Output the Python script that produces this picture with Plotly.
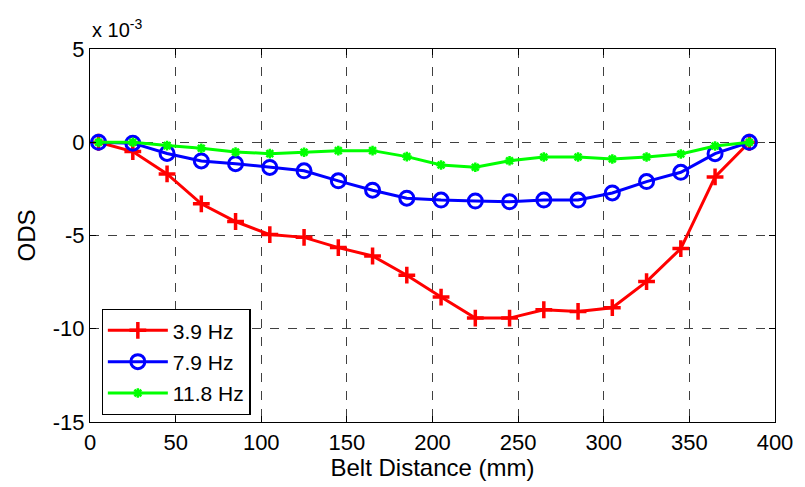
import plotly.graph_objects as go

belt_mm = [5, 25, 45, 65, 85, 105, 125, 145, 165, 185, 205, 225, 245, 265, 285, 305, 325, 345, 365, 385]
ods_39 = [0, -0.5, -1.7, -3.3, -4.25, -4.95, -5.1, -5.65, -6.1, -7.13, -8.3, -9.43, -9.43, -8.98, -9.07, -8.87, -7.47, -5.7, -1.86, 0]
ods_79 = [0, -0.05, -0.6, -1.0, -1.15, -1.35, -1.53, -2.07, -2.57, -3.0, -3.1, -3.15, -3.19, -3.1, -3.1, -2.72, -2.11, -1.61, -0.61, 0]
ods_118 = [0, 0, -0.18, -0.32, -0.52, -0.61, -0.54, -0.45, -0.45, -0.77, -1.22, -1.34, -0.99, -0.79, -0.79, -0.9, -0.79, -0.63, -0.2, 0]

x_ticks = [0, 50, 100, 150, 200, 250, 300, 350, 400]
y_ticks = [5, 0, -5, -10, -15]
y_ticktext = ["5", "0", "-5", "-10", "-15"]

FONT = "Liberation Sans, Arial, sans-serif"

fig = go.Figure()
fig.add_trace(go.Scatter(x=belt_mm, y=ods_39, name="3.9 Hz", mode="lines+markers", legendgroup="a",
                         line=dict(color="#ff0000", width=3),
                         marker=dict(symbol="cross-thin-open", size=12, line=dict(color="#ff0000", width=3.5))))
fig.add_trace(go.Scatter(x=belt_mm, y=ods_79, name="7.9 Hz", mode="lines+markers", legendgroup="b",
                         line=dict(color="#0000ff", width=3),
                         marker=dict(symbol="circle-open", size=14, line=dict(color="#0000ff", width=3))))
fig.add_trace(go.Scatter(x=belt_mm, y=ods_118, name="11.8 Hz", mode="lines+markers", legendgroup="c",
                         line=dict(color="#00ff00", width=3),
                         marker=dict(symbol="asterisk-open", size=8, line=dict(color="#00ff00", width=2.5))))

axis_common = dict(showline=True, linecolor="black", linewidth=1.2, mirror="ticks",
                   ticks="inside", ticklen=6, tickcolor="black",
                   showgrid=True, gridcolor="rgba(0,0,0,0.75)", griddash="dash", gridwidth=1,
                   zeroline=False, tickfont=dict(family=FONT, size=22, color="black"))

fig.update_layout(
    width=805, height=487,
    margin=dict(l=90, r=22, t=49, b=65),
    paper_bgcolor="white", plot_bgcolor="white",
    font=dict(family=FONT, size=20, color="black"),
    xaxis=dict(range=[0, 400], tickvals=x_ticks, title=dict(text="Belt Distance (mm)", standoff=2,
               font=dict(size=24)), **axis_common),
    yaxis=dict(range=[-15, 5], tickvals=y_ticks, ticktext=y_ticktext,
               title=dict(text="ODS", standoff=10, font=dict(size=24)), **axis_common),
    legend=dict(x=0.017, y=0.303, xanchor="left", yanchor="top",
                bordercolor="black", borderwidth=1.2, bgcolor="white",
                font=dict(size=21), itemwidth=60, traceorder="grouped", tracegroupgap=1),
    showlegend=True,
)
fig.add_annotation(text="x 10<sup>-3</sup>", xref="paper", yref="paper", x=0.0, y=1.0,
                   xanchor="left", yanchor="bottom", yshift=6, showarrow=False,
                   font=dict(family=FONT, size=20, color="black"))

fig.write_html("out.html", config={"displayModeBar": False},
               post_script="document.body.style.margin='0';document.body.style.padding='0';")
